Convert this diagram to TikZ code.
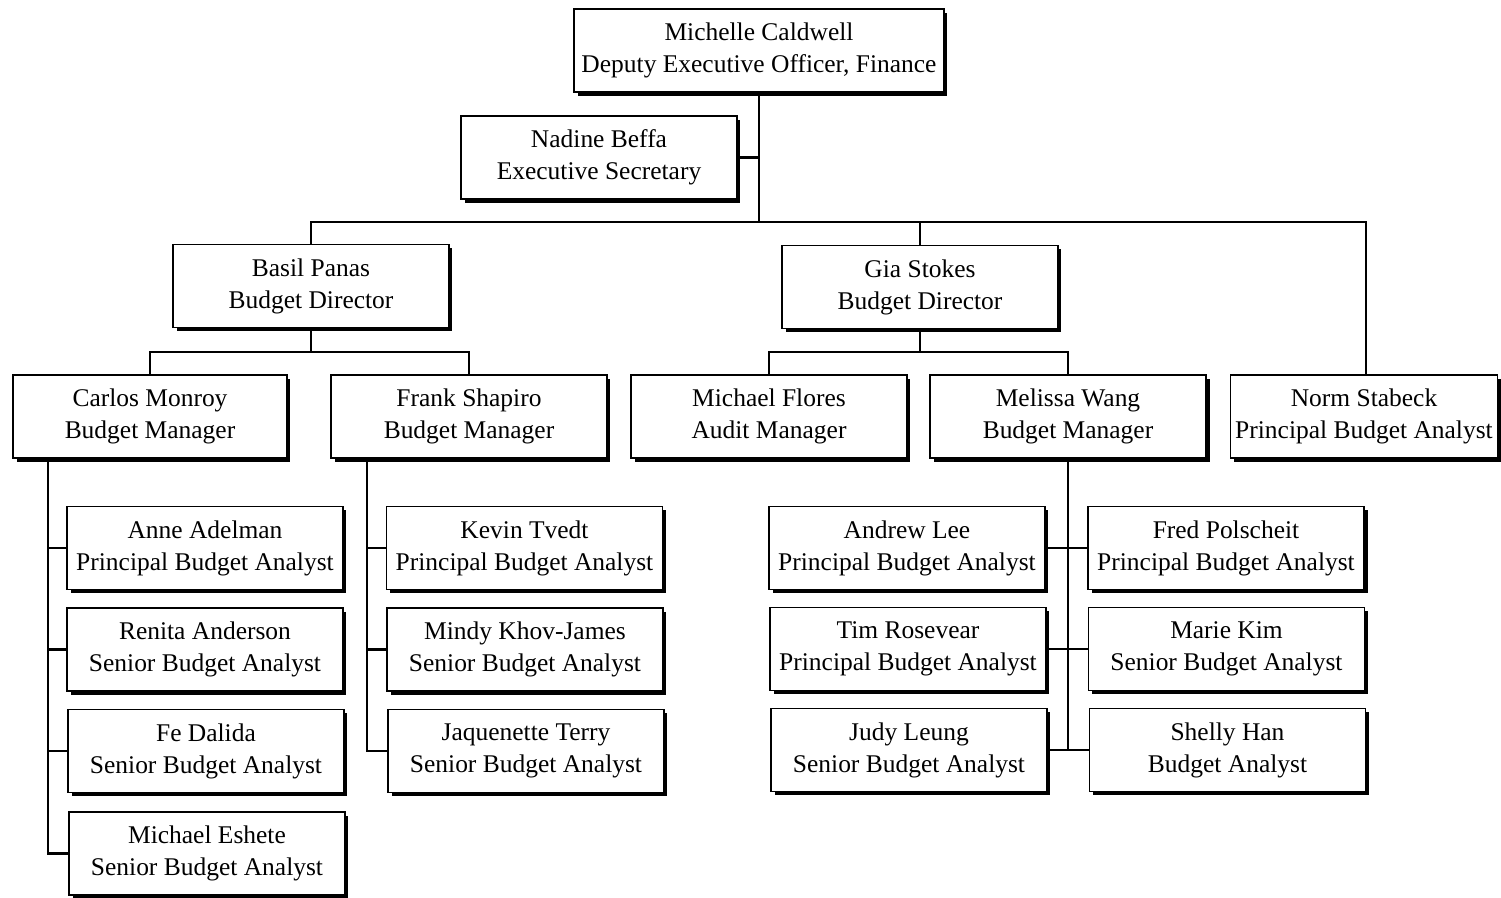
\documentclass[tikz,border=0pt]{standalone}
\usepackage{fontspec}
\setmainfont{Liberation Serif}
\usetikzlibrary{shadows}
\begin{document}
\begin{tikzpicture}[x=0.02cm,y=-0.02cm,
  bx/.style={draw, line width=0.8pt, fill=white, minimum width=5.52cm, minimum height=1.66cm,
    inner sep=0pt, align=center, font=\fontsize{14.5}{18.2}\selectfont,
    drop shadow={shadow xshift=2pt, shadow yshift=-2pt, fill=black, opacity=1}},
  ln/.style={line width=1.4pt}]
\useasboundingbox (0,0) rectangle (1501,897);
% nodes
\node[bx, minimum width=7.4cm] (cald) at (759,50.5) {Michelle Caldwell\\Deputy Executive Officer, Finance};
\node[bx] (nadine) at (599,157.5) {Nadine Beffa\\Executive Secretary};
\node[bx] (basil) at (311,286) {Basil Panas\\Budget Director};
\node[bx] (gia) at (920,287) {Gia Stokes\\Budget Director};
\node[bx, minimum width=5.48cm] (carlos) at (150,416.5) {Carlos Monroy\\Budget Manager};
\node[bx] (frank) at (469,416.5) {Frank Shapiro\\Budget Manager};
\node[bx] (flores) at (769,416.5) {Michael Flores\\Audit Manager};
\node[bx] (wang) at (1068,416.5) {Melissa Wang\\Budget Manager};
\node[bx, minimum width=5.34cm] (norm) at (1364,416.5) {Norm Stabeck\\Principal Budget Analyst};
\node[bx] (anne) at (205,548) {Anne Adelman\\Principal Budget Analyst};
\node[bx] (renita) at (205,649.5) {Renita Anderson\\Senior Budget Analyst};
\node[bx] (fe) at (206,751) {Fe Dalida\\Senior Budget Analyst};
\node[bx] (eshete) at (207,853.5) {Michael Eshete\\Senior Budget Analyst};
\node[bx] (kevin) at (524.5,548) {Kevin Tvedt\\Principal Budget Analyst};
\node[bx] (mindy) at (525,649.5) {Mindy Khov-James\\Senior Budget Analyst};
\node[bx] (jaq) at (526,751) {Jaquenette Terry\\Senior Budget Analyst};
\node[bx] (andrew) at (907,548) {Andrew Lee\\Principal Budget Analyst};
\node[bx] (tim) at (908,649) {Tim Rosevear\\Principal Budget Analyst};
\node[bx] (judy) at (909,750) {Judy Leung\\Senior Budget Analyst};
\node[bx] (fred) at (1226,548) {Fred Polscheit\\Principal Budget Analyst};
\node[bx] (marie) at (1226.5,649) {Marie Kim\\Senior Budget Analyst};
\node[bx] (shelly) at (1227.5,750) {Shelly Han\\Budget Analyst};
% helper coordinates
\coordinate (bus) at (760,222);
\coordinate (b2) at (0,352);
\coordinate (cs) at (48,0);
\coordinate (fs) at (367,0);
\coordinate (ns) at (1366,0);
% connectors
\draw[ln] (cald.south) -- (cald.south |- bus);
\draw[ln] (nadine.east) -- (nadine.east -| cald.south);
\draw[ln] (basil.north) -- (basil.north |- bus) -- (ns |- bus) -- (ns |- norm.north);
\draw[ln] (gia.north) -- (gia.north |- bus);
\draw[ln] (basil.south) -- (basil.south |- b2);
\draw[ln] (carlos.north) -- (carlos.north |- b2) -- (frank.north |- b2) -- (frank.north);
\draw[ln] (gia.south) -- (gia.south |- b2);
\draw[ln] (flores.north) -- (flores.north |- b2) -- (wang.north |- b2) -- (wang.north);
\draw[ln] (cs |- carlos.south) -- (cs |- eshete.west) -- (eshete.west);
\draw[ln] (cs |- anne.west) -- (anne.west);
\draw[ln] (cs |- renita.west) -- (renita.west);
\draw[ln] (cs |- fe.west) -- (fe.west);
\draw[ln] (fs |- frank.south) -- (fs |- jaq.west) -- (jaq.west);
\draw[ln] (fs |- kevin.west) -- (kevin.west);
\draw[ln] (fs |- mindy.west) -- (mindy.west);
\draw[ln] (wang.south) -- (wang.south |- judy.east);
\draw[ln] (andrew.east) -- (fred.west);
\draw[ln] (tim.east) -- (marie.west);
\draw[ln] (judy.east) -- (shelly.west);
\end{tikzpicture}
\end{document}
